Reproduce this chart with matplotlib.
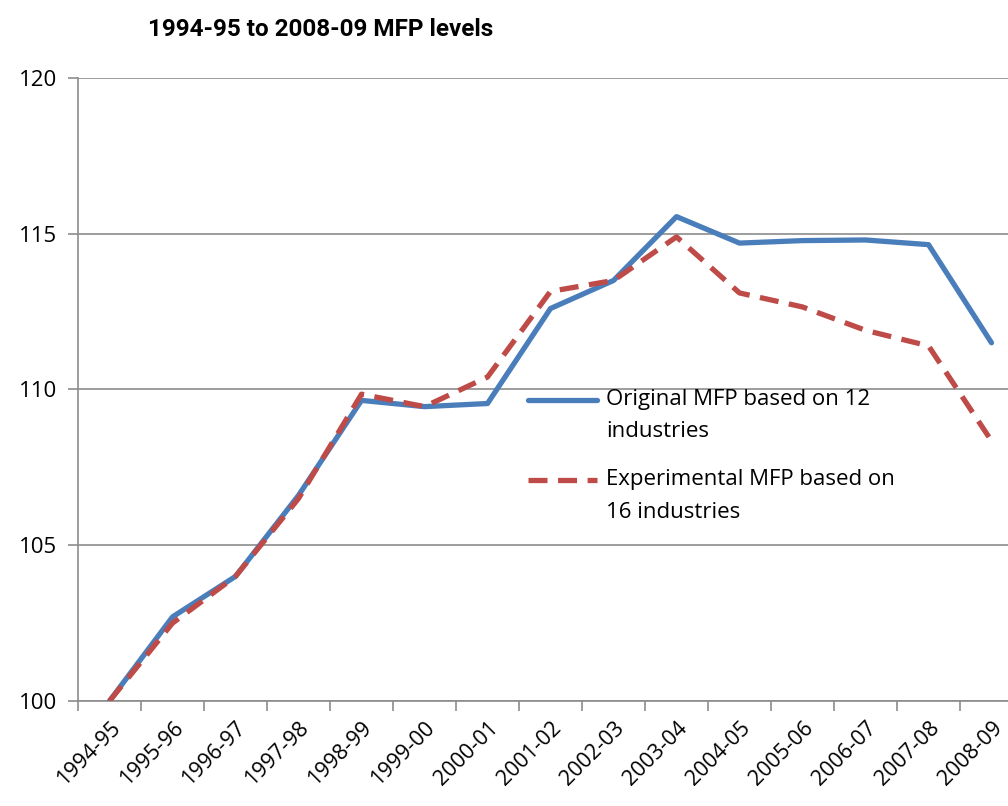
import numpy as np
import matplotlib.pyplot as plt
from matplotlib.lines import Line2D

# data
years = ["1994-95", "1995-96", "1996-97", "1997-98", "1998-99", "1999-00", "2000-01",
         "2001-02", "2002-03", "2003-04", "2004-05", "2005-06", "2006-07", "2007-08", "2008-09"]
original = [100.0, 102.7, 104.0, 106.6, 109.65, 109.45, 109.55,
            112.6, 113.5, 115.55, 114.7, 114.78, 114.8, 114.65, 111.5]
experimental = [100.0, 102.5, 104.0, 106.5, 109.85, 109.45, 110.4,
                113.15, 113.5, 114.9, 113.1, 112.65, 111.9, 111.4, 108.35]

label_font = ["Open Sans", "DejaVu Sans"]
blue = "#4a7ebb"
red = "#be4b48"

fig = plt.figure(figsize=(10.08, 8.06), dpi=100)
ax = fig.add_axes([78/1008, 1-701/806, (1023-78)/1008, (701-78)/806])

x = np.arange(len(years))
ax.plot(x, original, color=blue, lw=3.8, solid_capstyle="round", solid_joinstyle="round", zorder=3)
ax.plot(x, experimental, color=red, lw=3.8, linestyle=(0, (3.6, 2.0)), dash_capstyle="butt", zorder=4)

ax.set_xlim(-0.5, len(years) - 0.5)
ax.set_ylim(100, 120)
ax.set_yticks([100, 105, 110, 115, 120])
ax.yaxis.grid(True, color="#8c8c8c", lw=1.2)
ax.set_axisbelow(True)

ax.set_xticks(x)
ax.set_xticks(np.arange(-0.5, len(years)), minor=True)
ax.set_xticklabels(years, rotation=45, ha="right", rotation_mode="anchor",
                   fontsize=15.5, family=label_font)
ax.tick_params(axis="x", which="major", length=0, pad=12)
ax.tick_params(axis="x", which="minor", length=7, color="#8c8c8c", width=1.2)
ax.tick_params(axis="y", length=7, color="#8c8c8c", width=1.2, labelsize=16, pad=8)
for lab in ax.get_yticklabels():
    lab.set_family(label_font)

for s in ["top", "right"]:
    ax.spines[s].set_visible(False)
for s in ["left", "bottom"]:
    ax.spines[s].set_color("#8c8c8c")
    ax.spines[s].set_linewidth(1.2)

fig.text(148/1008, 1-30/806, "1994-95 to 2008-09 MFP levels", fontsize=17.5, fontweight="bold",
         family=["Roboto", "DejaVu Sans"], va="center", ha="left")

# legend
fig.add_artist(Line2D([528/1008, 597/1008], [1-400/806, 1-400/806], color=blue, lw=3.8,
                      solid_capstyle="round"))
fig.add_artist(Line2D([528/1008, 597/1008], [1-480/806, 1-480/806], color=red, lw=3.8,
                      linestyle=(0, (3.6, 2.0))))
fig.text(606/1008, 1-400/806, "Original MFP based on 12", fontsize=16, family=label_font, va="center")
fig.text(606/1008, 1-432/806, "industries", fontsize=16, family=label_font, va="center")
fig.text(606/1008, 1-480/806, "Experimental MFP based on", fontsize=16, family=label_font, va="center")
fig.text(606/1008, 1-512/806, "16 industries", fontsize=16, family=label_font, va="center")

fig.savefig("out.png", dpi=100)
